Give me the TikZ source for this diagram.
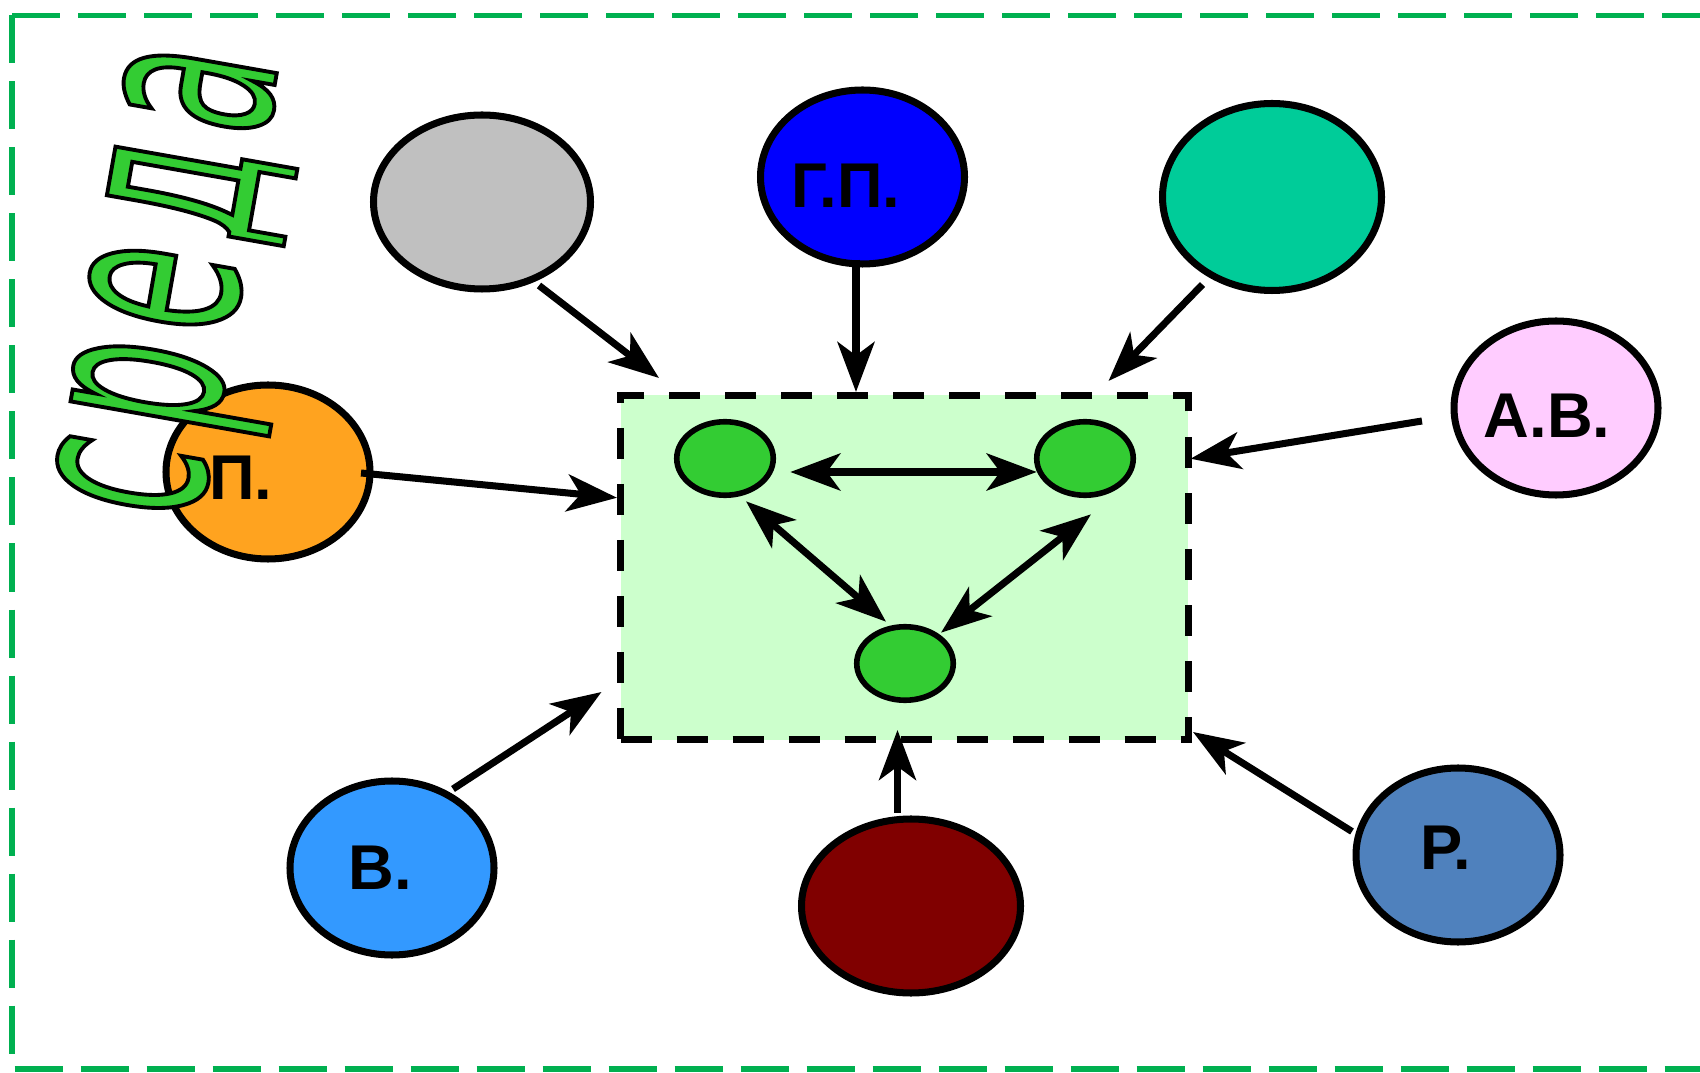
\documentclass[tikz,border=0pt]{standalone}
\usepackage{fontspec}
\setmainfont{Liberation Sans}
\newfontfamily\titlefont[FakeStretch=0.5]{DejaVu Sans}
\usepackage{xcolor}
\usepackage{tikz}
\usetikzlibrary{positioning}
\usetikzlibrary{shapes.geometric}
\usetikzlibrary{arrows.meta}

\definecolor{framegreen}{HTML}{00B050}
\definecolor{boxgreen}{HTML}{CCFFCC}
\definecolor{agentgreen}{HTML}{33CC33}
\definecolor{envgray}{HTML}{C0C0C0}
\definecolor{envblue}{HTML}{0000FF}
\definecolor{envteal}{HTML}{00CC99}
\definecolor{envpink}{HTML}{FFCCFF}
\definecolor{envorange}{HTML}{FFA31F}
\definecolor{envsky}{HTML}{3399FF}
\definecolor{envmaroon}{HTML}{800000}
\definecolor{envsteel}{HTML}{4F81BD}

\begin{document}
\begin{tikzpicture}[
        >={Stealth[length=1cm,width=0.74cm,inset=0.27cm]},
        env/.style={ellipse, draw=black, line width=4pt, minimum width=4.08cm, minimum height=3.48cm, inner sep=0pt},
        tag/.style={font=\fontsize{36}{36}\selectfont\bfseries},
        agent/.style={ellipse, draw=black, line width=3.2pt, fill=agentgreen, minimum width=1.93cm, minimum height=1.47cm, inner sep=0pt},
        link/.style={line width=4pt},
        frame/.style={framegreen, line width=0.11cm, dash pattern=on 0.96cm off 0.36cm}
    ]
    \useasboundingbox (0,0) rectangle (34,21.44);

    \draw[frame] (0.24,21.13) -- (34.6,21.13);
    \draw[frame] (0.24,21.13) |- (34.6,0.06);

    \node[rectangle, draw=black, fill=boxgreen, line width=0.14cm, dash pattern=on 0.62cm off 0.5cm, minimum width=11.35cm, minimum height=6.89cm, inner sep=0pt] (box) at (18.085,10.085) {};

    \node[agent] (a_1) at (14.50,12.27) {};
    \node[agent] (a_2) at (21.70,12.27) {};
    \node[agent] (a_3) at (18.10,8.17) {};

    \node[env, fill=envgray, minimum width=4.34cm] (gray) at (9.64,17.40) {};
    \node[env, fill=envblue, label={[tag, xshift=-0.33cm, yshift=-0.18cm]center:Г.П.}] (gp) at (17.25,17.90) {};
    \node[env, fill=envteal, minimum width=4.38cm, minimum height=3.74cm] (teal) at (25.44,17.50) {};
    \node[env, fill=envpink, label={[tag, xshift=-0.18cm, yshift=-0.16cm]center:А.В.}] (av) at (31.12,13.28) {};
    \node[env, fill=envorange, label={[tag, xshift=-0.54cm, yshift=-0.12cm]center:П.}] (p) at (5.36,12.00) {};
    \node[env, fill=envsky, label={[tag, xshift=-0.24cm]center:В.}] (v) at (7.84,4.08) {};
    \node[env, fill=envmaroon, minimum width=4.38cm] (maroon) at (18.22,3.32) {};
    \node[env, fill=envsteel, label={[tag, xshift=-0.24cm, yshift=0.14cm]center:Р.}] (r) at (29.16,4.34) {};

    % outside -> group
    \draw[link, ->] ([xshift=1.14cm,yshift=0.14cm]gray.south) to ([xshift=0.84cm,yshift=0.28cm]box.north west);
    \draw[link, ->] ([xshift=-0.13cm,yshift=0.16cm]gp.south) to ([xshift=-0.13cm,yshift=0.0cm]gp.south |- box.north);
    \draw[link, ->] ([xshift=-1.39cm,yshift=0.19cm]teal.south) to ([xshift=-1.66cm,yshift=0.22cm]box.north east);
    \draw[link, ->] ([xshift=-0.57cm,yshift=-0.26cm]av.west) to ([xshift=-0.02cm,yshift=2.18cm]box.east);
    \draw[link, ->] ([xshift=-0.25cm,yshift=-0.02cm]p.east) to ([yshift=1.40cm]box.west);
    \draw[link, ->] ([xshift=1.22cm,yshift=-0.23cm]v.north) to ([xshift=-0.31cm,yshift=1.03cm]box.south west);
    \draw[link, ->] ([xshift=-0.27cm,yshift=0.05cm]maroon.north) to ([xshift=-0.27cm,yshift=0.27cm]maroon.north |- box.south);
    \draw[link, ->] ([xshift=-0.01cm,yshift=0.47cm]r.west) to ([xshift=0.03cm,yshift=0.23cm]box.south east);

    % inside the group
    \draw[link, <->] ([xshift=0.285cm,yshift=-0.27cm]a_1.east) to ([xshift=0.055cm,yshift=-0.27cm]a_2.west);
    \draw[link, <->] ([xshift=0.42cm,yshift=-0.065cm]a_1.south) to ([xshift=-0.38cm,yshift=0.045cm]a_3.north);
    \draw[link, <->] ([xshift=0.12cm,yshift=-0.325cm]a_2.south) to ([xshift=0.72cm,yshift=-0.175cm]a_3.north);

    \node[rotate=80, anchor=base, inner sep=0pt, text=agentgreen, font=\titlefont\fontsize{152}{152}\selectfont] (title) at (4.76,15.58) {\special{pdf:literal direct 0 0 0 RG 2 Tr 2.2 w}с\kern8pt р\kern8pt е\kern8pt д\kern8pt а\special{pdf:literal direct 0 Tr}};
\end{tikzpicture}
\end{document}
